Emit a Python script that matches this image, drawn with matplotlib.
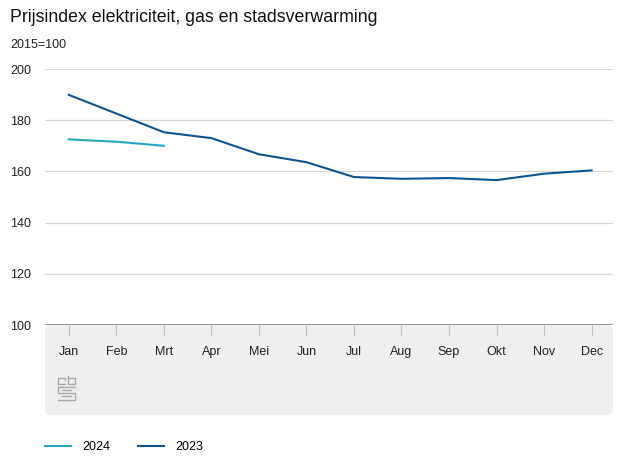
import matplotlib
matplotlib.use("Agg")
import matplotlib.pyplot as plt
from matplotlib.patches import FancyBboxPatch
from matplotlib.lines import Line2D

plt.rcParams['font.family'] = ['Liberation Sans', 'DejaVu Sans']

# data
months = ["Jan", "Feb", "Mrt", "Apr", "Mei", "Jun", "Jul", "Aug", "Sep", "Okt", "Nov", "Dec"]
val_2023 = [189.9, 182.6, 175.3, 173.0, 166.7, 163.6, 157.8, 157.1, 157.4, 156.6, 159.1, 160.4]
val_2024 = [172.5, 171.6, 170.0]
yticks = [100, 120, 140, 160, 180, 200]

c2024 = "#27a6c4"
c2023 = "#0d5592"

W, H = 627, 470
fig = plt.figure(figsize=(W / 100, H / 100), dpi=100)

# grey band under the plot area
band = FancyBboxPatch((45 / W, 1 - 415 / H), 568 / W, 90 / H,
                      boxstyle="round,pad=0,rounding_size=0.012",
                      transform=fig.transFigure, facecolor="#efefef",
                      edgecolor="none", zorder=-1)
fig.patches.append(band)

ax = fig.add_axes([45 / W, 1 - 325 / H, 568 / W, 256 / H])
ax.set_facecolor("none")

ax.plot(range(len(val_2023)), val_2023, color=c2023, lw=1.5, label="2023", zorder=3)
ax.plot(range(len(val_2024)), val_2024, color=c2024, lw=1.5, label="2024", zorder=3)

ax.set_xlim(-0.5, 11.45)
ax.set_ylim(100, 200)
ax.set_yticks(yticks)
ax.set_xticks(range(12))
ax.set_xticklabels(months)
for y in yticks[1:]:
    ax.axhline(y, color="#d6d6d6", lw=0.9, zorder=1)
ax.axhline(100, color="#8a8a8a", lw=1.3, zorder=2)

for s in ax.spines.values():
    s.set_visible(False)
ax.tick_params(axis="y", length=0, pad=25, labelsize=9, labelcolor="#222222")
for lab in ax.get_yticklabels():
    lab.set_horizontalalignment("left")
ax.tick_params(axis="x", length=7, width=0.8, color="#bdbdbd", pad=8,
               labelsize=9, labelcolor="#222222")

fig.text(10 / W, 1 - 18 / H, "Prijsindex elektriciteit, gas en stadsverwarming",
         fontsize=12.8, va="center", ha="left", color="#111111")
fig.text(10 / W, 1 - 45 / H, "2015=100", fontsize=9, va="center", ha="left",
         color="#222222")

# simple cbs logo
lc = "#a8a8a8"
def fl(xs, ys):
    fig.add_artist(Line2D([x / W for x in xs], [1 - y / H for y in ys],
                          color=lc, lw=1.0))
fl([58, 58, 65, 65], [384, 378, 378, 380])
fl([58, 65], [384, 384])
fl([68, 68, 75, 75, 68], [376, 384, 384, 378, 378])
fl([75, 58, 58, 75, 75, 58], [387, 387, 393, 393, 400, 400])
fl([62, 71], [396, 396])
fl([62, 71], [390, 390])

handles = [Line2D([], [], color=c2024, lw=1.5), Line2D([], [], color=c2023, lw=1.5)]
fig.legend(handles, ["2024", "2023"], loc="center left",
           bbox_to_anchor=(45 / W, 1 - 447 / H), ncol=2, frameon=False,
           fontsize=9, handlelength=2.1, columnspacing=2.2, handletextpad=0.9,
           borderpad=0, borderaxespad=0)

fig.savefig("out.png", dpi=100)
